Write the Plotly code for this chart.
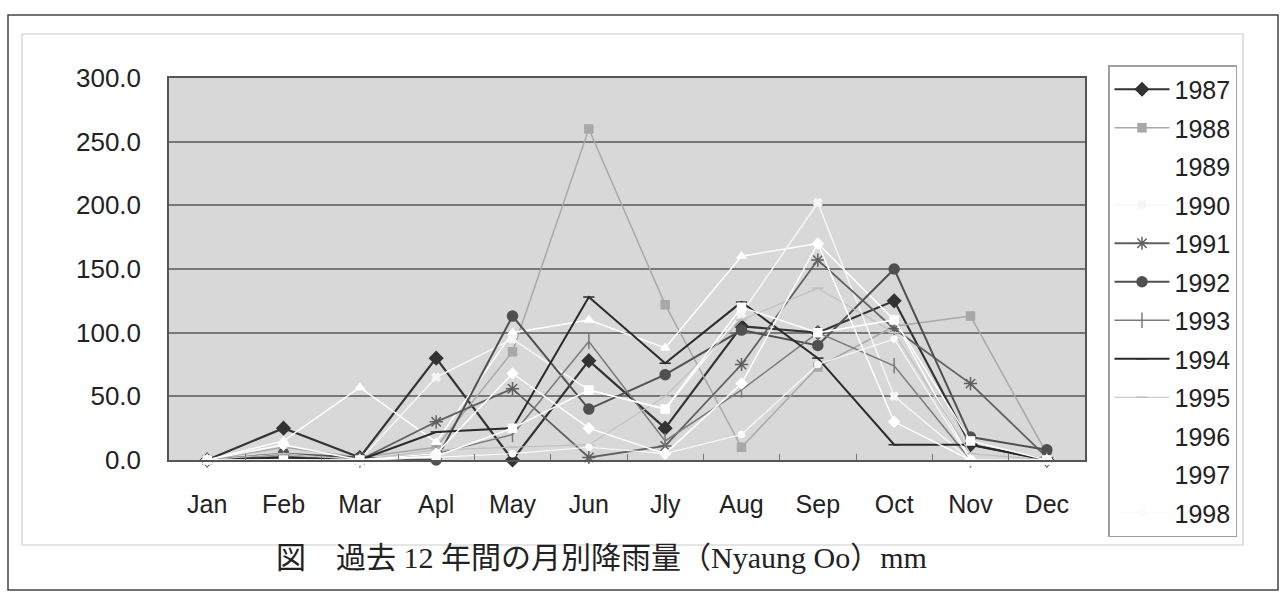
import plotly.graph_objects as go

months = ["Jan", "Feb", "Mar", "Apl", "May", "Jun", "Jly", "Aug", "Sep", "Oct", "Nov", "Dec"]

r1987 = [0, 25, 2, 80, 0, 78, 25, 105, 100, 125, 12, 0]
r1988 = [0, 10, 2, 10, 85, 260, 122, 10, 73, 105, 113, 5]
r1989 = [0, 15, 57, 14, 100, 110, 88, 160, 170, 110, 0, 0]
r1990 = [0, 5, 0, 65, 95, 55, 40, 115, 202, 50, 0, 0]
r1991 = [0, 2, 0, 30, 56, 2, 11, 75, 157, 103, 60, 2]
r1992 = [0, 5, 2, 0, 113, 40, 67, 102, 90, 150, 18, 8]
r1993 = [0, 3, 0, 5, 20, 93, 15, 55, 100, 74, 0, 0]
r1994 = [0, 2, 0, 22, 25, 128, 76, 124, 80, 12, 12, 0]
r1995 = [0, 5, 0, 8, 10, 12, 50, 110, 135, 100, 5, 0]
r1996 = [0, 12, 0, 5, 68, 25, 5, 60, 170, 30, 0, 0]
r1997 = [0, 0, 0, 3, 25, 55, 40, 120, 100, 110, 15, 0]
r1998 = [0, 0, 0, 2, 5, 10, 5, 20, 75, 95, 0, 0]

years = ["1987", "1988", "1989", "1990", "1991", "1992", "1993", "1994", "1995", "1996", "1997", "1998"]
series = [r1987, r1988, r1989, r1990, r1991, r1992, r1993, r1994, r1995, r1996, r1997, r1998]

styles = [
    dict(color="#333333", width=2.2, symbol="diamond", size=10),
    dict(color="#a8a8a8", width=1.5, symbol="square", size=8),
    dict(color="#ffffff", width=1.5, symbol="triangle-up", size=8),
    dict(color="#f6f6f6", width=1.5, symbol="x", size=7),
    dict(color="#606060", width=1.8, symbol="asterisk-open", size=11),
    dict(color="#505050", width=2.0, symbol="circle", size=10),
    dict(color="#7a7a7a", width=1.5, symbol="line-ns-open", size=11),
    dict(color="#2a2a2a", width=2.0, symbol="line-ew-open", size=8),
    dict(color="#c0c0c0", width=1.2, symbol="line-ew-open", size=8),
    dict(color="#ffffff", width=1.5, symbol="diamond", size=8),
    dict(color="#ffffff", width=1.5, symbol="square", size=8),
    dict(color="#fafafa", width=1.2, symbol="circle", size=6),
]

fig = go.Figure()
for yr, vals, st in zip(years, series, styles):
    fig.add_trace(go.Scatter(
        x=months, y=vals, name=yr, mode="lines+markers",
        legendgroup=yr,
        line=dict(color=st["color"], width=st["width"]),
        marker=dict(symbol=st["symbol"], size=st["size"], color=st["color"],
                    line=dict(color=st["color"], width=1.5)),
        cliponaxis=False,
    ))

W, H = 1286, 607
L, R, T, B = 169, 201, 10, 10
pw, ph = W - L - R, H - T - B
PLOT_TOP, PLOT_BOT = 78, 460


def px(x):
    return (x - L) / pw


def py(y):
    return (H - B - y) / ph


fig.update_layout(
    width=W, height=H,
    margin=dict(l=L, r=R, t=T, b=B, autoexpand=False),
    paper_bgcolor="white",
    plot_bgcolor="#d8d8d8",
    font=dict(family="Liberation Sans, Arial, sans-serif", size=25, color="#222222"),
    showlegend=True,
    legend=dict(
        x=px(1108), y=py(65), xanchor="left", yanchor="top",
        bordercolor="#a0a0a0", borderwidth=1.5, bgcolor="white",
        font=dict(size=25, color="#222222"),
        tracegroupgap=3, traceorder="grouped", itemwidth=55,
    ),
    xaxis=dict(
        domain=[0, 1], range=[-0.5, 11.5],
        type="category", showgrid=False, showline=True, linecolor="#555555", linewidth=1.5,
        mirror=True, ticks="inside", tickson="boundaries", ticklen=6, tickcolor="#777777",
        ticklabelstandoff=21, tickfont=dict(size=25),
    ),
    yaxis=dict(
        domain=[py(PLOT_BOT), py(PLOT_TOP)],
        range=[0, 300], dtick=50, tickformat=".1f", showgrid=True, gridcolor="#777777",
        gridwidth=1.5, showline=True, linecolor="#555555", linewidth=1.5, mirror=True,
        zeroline=False, ticks="", ticklabelstandoff=21, tickfont=dict(size=26),
    ),
    shapes=[
        dict(type="rect", xref="paper", yref="paper",
             x0=px(8), x1=px(1278), y0=py(590), y1=py(15),
             line=dict(color="#444444", width=1.5), layer="below"),
        dict(type="rect", xref="paper", yref="paper",
             x0=px(22), x1=px(1243), y0=py(545), y1=py(34),
             line=dict(color="#cccccc", width=1.2), layer="below"),
    ],
    annotations=[dict(
        text="図　過去 12 年間の月別降雨量（Nyaung Oo）mm",
        xref="paper", yref="paper", x=px(601), y=py(557),
        xanchor="center", yanchor="middle", showarrow=False,
        font=dict(family="Liberation Serif, Noto Sans CJK JP, serif", size=30, color="#222222"),
    )],
)

fig.write_html("out.html", config={"displayModeBar": False},
               post_script="document.body.style.margin='0px';")
